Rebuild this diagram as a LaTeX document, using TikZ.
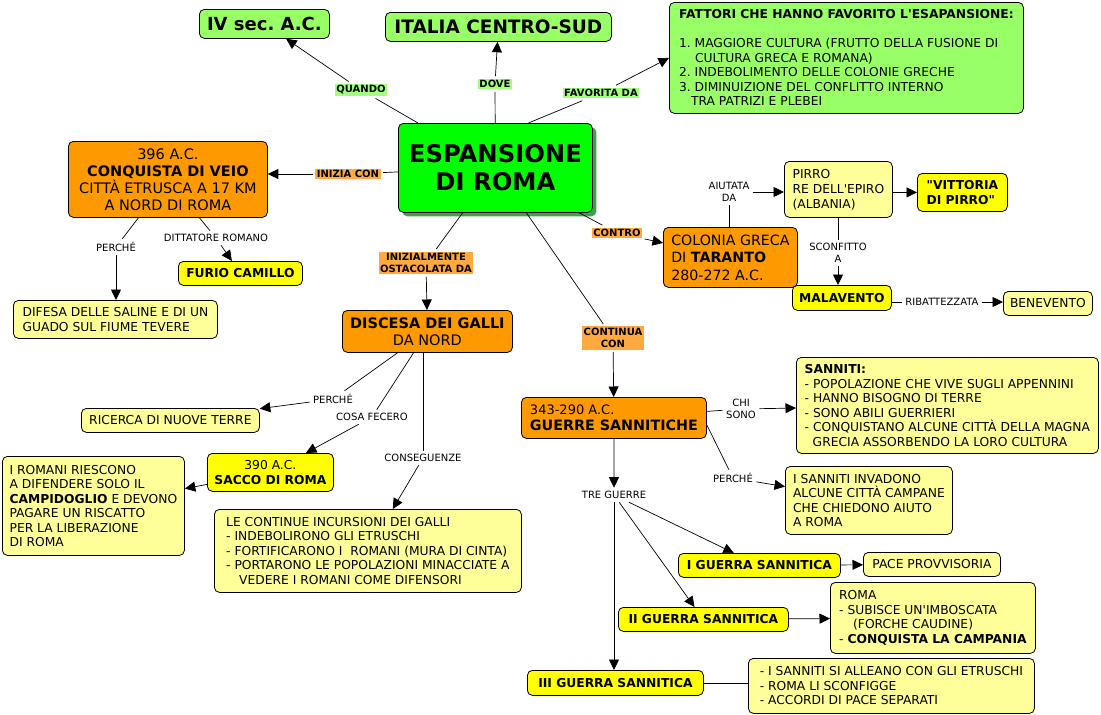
\documentclass[tikz,border=0pt]{standalone}
\usepackage{fontspec}
\setmainfont{DejaVu Sans}
\usetikzlibrary{arrows.meta,shadows}
\definecolor{lgreen}{HTML}{99FF66}
\definecolor{bgreen}{HTML}{00FF00}
\definecolor{sgreen}{HTML}{3FA050}
\definecolor{orng}{HTML}{FF9900}
\definecolor{yel}{HTML}{FFFF00}
\definecolor{lyel}{HTML}{FFFF99}
\definecolor{labg}{HTML}{A3FF7F}
\definecolor{labo}{HTML}{FFA940}
\newcommand{\fsz}[2]{\fontsize{#1}{#2}\selectfont}
\newcommand{\ap}{\textquotesingle}
\newcommand{\qd}{\textquotedbl}
\frenchspacing
\begin{document}
\begin{tikzpicture}[x=1pt,y=-1pt,
  box/.style={draw, line width=0.8pt, rounded corners=5pt, anchor=north west, inner sep=0pt},
  body/.style={font=\fsz{12.3}{14.5}},
  bbody/.style={font=\bfseries\fsz{12.3}{14.5}},
  glab/.style={fill=labg, font=\bfseries\fsz{10}{12.5}, inner sep=1.5pt, outer sep=2.5pt, align=center},
  olab/.style={fill=labo, font=\bfseries\fsz{10}{12.5}, inner sep=1.5pt, outer sep=2.5pt, align=center},
  plab/.style={font=\fsz{10}{12}, inner sep=2pt, outer sep=1.5pt, align=center},
  ln/.style={line width=0.7pt},
  arr/.style={line width=0.7pt, -{Triangle[length=10.5pt,width=10pt]}}]
\path[use as bounding box, fill=white] (0,0) rectangle (1101,715);

% ---- boxes ----
\node[box, fill=lgreen, minimum width=130pt, minimum height=29pt, font=\bfseries\fsz{18}{21}] (ivsec) at (199,9) {IV sec. A.C.};
\node[box, fill=lgreen, minimum width=226pt, minimum height=29pt, font=\bfseries\fsz{18.5}{21}] (italia) at (385,12) {ITALIA CENTRO-SUD};
\node[box, fill=lgreen, minimum width=354pt, minimum height=111pt, align=left, body] (fattori) at (669,2)
 {\textbf{FATTORI CHE HANNO FAVORITO L\ap ESAPANSIONE:}\\[14.5pt]
  1. MAGGIORE CULTURA (FRUTTO DELLA FUSIONE DI\\
  \hspace*{16pt}CULTURA GRECA E ROMANA)\\
  2. INDEBOLIMENTO DELLE COLONIE GRECHE\\
  3. DIMINUIZIONE DEL CONFLITTO INTERNO\\
  \hspace*{12pt}TRA PATRIZI E PLEBEI};
\node[box, fill=bgreen, minimum width=194pt, minimum height=89pt, align=center, font=\bfseries\fsz{24.3}{28},
  drop shadow={shadow xshift=4pt, shadow yshift=-4pt, fill=sgreen, opacity=1}] (esp) at (398,123) {ESPANSIONE\\DI ROMA};
\node[box, fill=orng, minimum width=199pt, minimum height=76pt, align=center, font=\fsz{14.5}{17}] (veio) at (68,141)
 {396 A.C.\\\textbf{CONQUISTA DI VEIO}\\CITTÀ ETRUSCA A 17 KM\\A NORD DI ROMA};
\node[box, fill=yel, minimum width=124pt, minimum height=24pt, bbody] (furio) at (178,261) {FURIO CAMILLO};
\node[box, fill=lyel, minimum width=204pt, minimum height=38pt, align=left, body] (difesa) at (13,300)
 {DIFESA DELLE SALINE E DI UN\\GUADO SUL FIUME TEVERE};
\node[box, fill=orng, minimum width=170pt, minimum height=42pt, align=center, font=\fsz{14.5}{17}] (discesa) at (342,310)
 {\textbf{DISCESA DEI GALLI}\\DA NORD};
\node[box, fill=lyel, minimum width=178pt, minimum height=24pt, body] (ricerca) at (81,408) {RICERCA DI NUOVE TERRE};
\node[box, fill=yel, minimum width=126pt, minimum height=38pt, align=center, body] (sacco) at (207,453)
 {390 A.C.\\\textbf{SACCO DI ROMA}};
\node[box, fill=lyel, minimum width=182pt, minimum height=99pt, align=left, body] (iromani) at (2,456)
 {I ROMANI RIESCONO\\A DIFENDERE SOLO IL\\\textbf{CAMPIDOGLIO} E DEVONO\\PAGARE UN RISCATTO\\PER LA LIBERAZIONE\\DI ROMA};
\node[box, fill=lyel, minimum width=307pt, minimum height=83pt, align=left, body] (continue) at (214,509)
 {LE CONTINUE INCURSIONI DEI GALLI\\- INDEBOLIRONO GLI ETRUSCHI\\- FORTIFICARONO I\ \ ROMANI (MURA DI CINTA)\\- PORTARONO LE POPOLAZIONI MINACCIATE A\\\hspace*{13pt}VEDERE I ROMANI COME DIFENSORI};
\node[box, fill=orng, minimum width=134pt, minimum height=60pt, align=left, font=\fsz{14.2}{17.5}] (taranto) at (663,227)
 {COLONIA GRECA\\DI \textbf{TARANTO}\\280-272 A.C.};
\node[box, fill=lyel, minimum width=108pt, minimum height=56pt, align=left, font=\fsz{12.3}{15}] (pirro) at (784,161)
 {PIRRO\\RE DELL\ap EPIRO\\(ALBANIA)};
\node[box, fill=yel, minimum width=90pt, minimum height=38pt, align=left, font=\bfseries\fsz{12.3}{15}] (vittoria) at (917,173)
 {\qd VITTORIA\\DI PIRRO\qd};
\node[box, fill=yel, minimum width=99pt, minimum height=25pt, bbody] (malavento) at (792,285) {MALAVENTO};
\node[box, fill=lyel, minimum width=89pt, minimum height=24pt, body] (benevento) at (1003,291) {BENEVENTO};
\node[box, fill=orng, minimum width=185pt, minimum height=41pt, align=left, font=\fsz{14.3}{16}] (guerre) at (521,397)
 {{\fsz{13}{16}343-290 A.C.}\\\textbf{GUERRE SANNITICHE}};
\node[box, fill=lyel, minimum width=302pt, minimum height=96pt, align=left, body] (sanniti) at (796,357)
 {\textbf{SANNITI:}\\- POPOLAZIONE CHE VIVE SUGLI APPENNINI\\- HANNO BISOGNO DI TERRE\\- SONO ABILI GUERRIERI\\- CONQUISTANO ALCUNE CITTÀ DELLA MAGNA\\\hspace*{8pt}GRECIA ASSORBENDO LA LORO CULTURA};
\node[box, fill=lyel, minimum width=167pt, minimum height=68pt, align=left, body] (invadono) at (785,466)
 {I SANNITI INVADONO\\ALCUNE CITTÀ CAMPANE\\CHE CHIEDONO AIUTO\\A ROMA};
\node[box, fill=yel, minimum width=162pt, minimum height=24pt, bbody] (iguerra) at (678,553) {I GUERRA SANNITICA};
\node[box, fill=lyel, minimum width=137pt, minimum height=24pt, body] (pace) at (863,552) {PACE PROVVISORIA};
\node[box, fill=yel, minimum width=170pt, minimum height=24pt, bbody] (iiguerra) at (618,607) {II GUERRA SANNITICA};
\node[box, fill=lyel, minimum width=205pt, minimum height=71pt, align=left, body] (roma) at (830,582)
 {ROMA\\- SUBISCE UN\ap IMBOSCATA\\\hspace*{14pt}(FORCHE CAUDINE)\\- \textbf{CONQUISTA LA CAMPANIA}};
\node[box, fill=yel, minimum width=176pt, minimum height=25pt, bbody] (iiiguerra) at (527,670) {III GUERRA SANNITICA};
\node[box, fill=lyel, minimum width=286pt, minimum height=55pt, align=left, body] (last) at (748,658)
 {- I SANNITI SI ALLEANO CON GLI ETRUSCHI\\- ROMA LI SCONFIGGE\\- ACCORDI DI PACE SEPARATI};

% ---- link labels ----
\node[glab] (quando) at (361,90) {QUANDO};
\node[glab] (dove) at (495,84) {DOVE};
\node[glab] (favorita) at (601,93) {FAVORITA DA};
\node[olab] (iniz) at (348,174) {INIZIA CON};
\node[olab] (contro) at (617,233) {CONTRO};
\node[olab] (inizialm) at (426,263) {INIZIALMENTE\\OSTACOLATA DA};
\node[olab] (continua) at (613,338) {CONTINUA\\CON};
\node[plab] (perche1) at (116,247) {PERCHÉ};
\node[plab] (dittatore) at (216,238) {DITTATORE ROMANO};
\node[plab] (aiutata) at (729,192) {AIUTATA\\DA};
\node[plab] (sconfitto) at (838,253) {SCONFITTO\\A};
\node[plab] (ribatt) at (942,302) {RIBATTEZZATA};
\node[plab] (perche2) at (333,399) {PERCHÉ};
\node[plab] (cosa) at (372,417) {COSA FECERO};
\node[plab] (conseg) at (423,458) {CONSEGUENZE};
\node[plab] (chisono) at (741,409) {CHI\\SONO};
\node[plab] (perche3) at (733,478) {PERCHÉ};
\node[plab] (tre) at (614,495) {TRE GUERRE};

% ---- connectors ----
\draw[ln] (esp) -- (quando); \draw[arr] (quando) -- (ivsec);
\draw[ln] (esp) -- (dove); \draw[arr] (dove) -- (italia);
\draw[ln] ([xshift=33pt]esp.north) -- (favorita); \draw[arr] (favorita) -- (fattori.west);
\draw[ln] (esp) -- (iniz); \draw[arr] (iniz) -- (iniz -| veio.east);
\draw[ln] (esp) -- (contro); \draw[arr] (contro) -- (taranto);
\draw[ln] (esp) -- (inizialm); \draw[arr] (inizialm) -- (discesa);
\draw[ln] (esp) -- (continua); \draw[arr] (continua) -- (guerre);
\draw[ln] (veio) -- (perche1); \draw[arr] (perche1) -- (perche1 |- difesa.north);
\draw[ln] (veio) -- (dittatore); \draw[arr] (dittatore) -- (furio);
\draw[ln] (taranto.north -| aiutata) -- (aiutata); \draw[arr] (aiutata) -- (aiutata -| pirro.west);
\draw[arr] (pirro.east |- vittoria) -- (vittoria);
\draw[ln] (pirro.south -| sconfitto) -- (sconfitto); \draw[arr] (sconfitto) -- (sconfitto |- malavento.north);
\draw[ln] (malavento.east |- ribatt) -- (ribatt); \draw[arr] (ribatt) -- (ribatt -| benevento.west);
\draw[ln] (discesa) -- (perche2); \draw[arr] (perche2) -- (ricerca);
\draw[ln] (discesa) -- (cosa); \draw[arr] (cosa) -- (sacco);
\draw[ln] (discesa.south -| conseg) -- (conseg); \draw[arr] (conseg) -- (continue);
\draw[arr] (sacco) -- (iromani);
\draw[ln] (guerre) -- (chisono); \draw[arr] (chisono) -- (sanniti);
\draw[ln] ([yshift=-7pt]guerre.east) -- (perche3); \draw[arr] (perche3) -- (invadono);
\draw[arr] (guerre) -- (tre);
\draw[arr] (tre) -- (iguerra); \draw[arr] (tre) -- (iiguerra); \draw[arr] (tre) -- (tre |- iiiguerra.north);
\draw[arr] (iguerra) -- (pace); \draw[arr] (iiguerra) -- (roma);
\draw[ln] (iiiguerra.east) -- (iiiguerra.east -| last.west);
\end{tikzpicture}
\end{document}
